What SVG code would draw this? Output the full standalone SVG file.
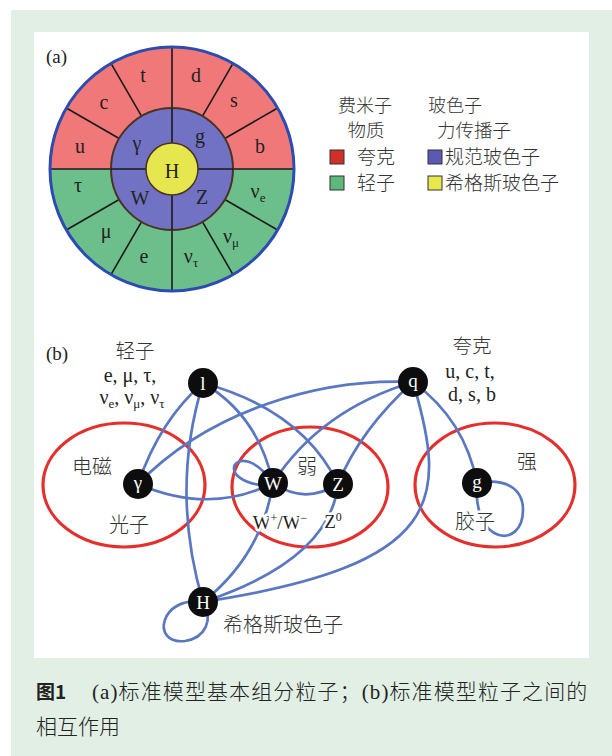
<svg xmlns="http://www.w3.org/2000/svg" width="612" height="756" viewBox="0 0 612 756">
<style>
.serif{font-family:"Liberation Serif","Noto Sans CJK SC",serif;fill:#222}
.cjk{font-family:"Noto Sans CJK SC","Liberation Serif",serif;fill:#333;font-weight:300}
.wl{font-family:"Liberation Serif",serif;font-size:20px;fill:#222;text-anchor:middle}
.sep{stroke:#1a1a1a;stroke-width:1.6;fill:none}
.con{fill:none;stroke:#5a78c2;stroke-width:2.7;stroke-linecap:round}
.group{fill:none;stroke:#e3302c;stroke-width:3.2}
.node{fill:#0d0d0d}
.nl{font-family:"Liberation Serif",serif;font-size:19px;fill:#fff;text-anchor:middle}
.halo{paint-order:stroke;stroke:#fff;stroke-width:5;stroke-linejoin:round}
.sw{stroke:#333;stroke-width:1}
</style>
<rect x="0" y="0" width="612" height="756" fill="#fff"/>
<rect x="11" y="10" width="601" height="746" fill="#e1efe5"/>
<rect x="34" y="32" width="555" height="626" fill="#fff"/>

<g id="wheel">
<path d="M50,169 A122,122 0 0 1 294,169 Z" fill="#f07878"/>
<path d="M50,169 A122,122 0 0 0 294,169 Z" fill="#6cbf8a"/>
<g class="sep">
<line x1="233" y1="169" x2="294" y2="169"/>
<line x1="224.8" y1="138.5" x2="277.7" y2="108"/>
<line x1="202.5" y1="116.2" x2="233" y2="63.4"/>
<line x1="172" y1="108" x2="172" y2="47"/>
<line x1="141.5" y1="116.2" x2="111" y2="63.4"/>
<line x1="119.2" y1="138.5" x2="66.3" y2="108"/>
<line x1="111" y1="169" x2="50" y2="169"/>
<line x1="119.2" y1="199.5" x2="66.3" y2="230"/>
<line x1="141.5" y1="221.8" x2="111" y2="274.6"/>
<line x1="172" y1="230" x2="172" y2="291"/>
<line x1="202.5" y1="221.8" x2="233" y2="274.6"/>
<line x1="224.8" y1="199.5" x2="277.7" y2="230"/>
</g>
<circle cx="172" cy="169" r="61" fill="#7272c4" stroke="#4a3322" stroke-width="2"/>
<line class="sep" x1="111" y1="169" x2="233" y2="169"/>
<line class="sep" x1="172" y1="108" x2="172" y2="230"/>
<circle cx="172" cy="169" r="26" fill="#e6e64e" stroke="#4a3322" stroke-width="1.5"/>
<circle cx="172" cy="169" r="122" fill="none" stroke="#2c4cb2" stroke-width="3"/>
<text class="wl" x="143" y="82">t</text>
<text class="wl" x="196" y="82">d</text>
<text class="wl" x="104" y="109">c</text>
<text class="wl" x="234" y="107">s</text>
<text class="wl" x="80" y="153">u</text>
<text class="wl" x="260" y="153">b</text>
<text class="wl" x="137" y="150">γ</text>
<text class="wl" x="200" y="143">g</text>
<text class="wl" x="172" y="178">H</text>
<text class="wl" x="140" y="205">W</text>
<text class="wl" x="202" y="204">Z</text>
<text class="wl" x="78" y="192">τ</text>
<text class="wl" x="258" y="198">ν<tspan font-size="13" dy="4">e</tspan></text>
<text class="wl" x="106" y="238">μ</text>
<text class="wl" x="231" y="243">ν<tspan font-size="13" dy="4">μ</tspan></text>
<text class="wl" x="144" y="263">e</text>
<text class="wl" x="191" y="263">ν<tspan font-size="13" dy="4">τ</tspan></text>
</g>

<text class="serif" x="46" y="63" font-size="19">(a)</text>

<g id="legend">
<text class="cjk" x="365" y="112" font-size="18" text-anchor="middle">费米子</text>
<text class="cjk" x="366" y="137" font-size="18.5" text-anchor="middle">物质</text>
<rect class="sw" x="330" y="150" width="14" height="14" fill="#cf3128"/>
<text class="cjk" x="357" y="164" font-size="19">夸克</text>
<rect class="sw" x="330" y="176" width="14" height="14" fill="#5cb87b"/>
<text class="cjk" x="357" y="190" font-size="19">轻子</text>
<text class="cjk" x="428" y="112" font-size="18">玻色子</text>
<text class="cjk" x="437" y="137" font-size="18.5">力传播子</text>
<rect class="sw" x="428" y="150" width="14" height="14" fill="#5a5ab4"/>
<text class="cjk" x="445" y="164" font-size="19">规范玻色子</text>
<rect class="sw" x="428" y="176" width="14" height="14" fill="#e8e84e"/>
<text class="cjk" x="445" y="190" font-size="19">希格斯玻色子</text>
</g>

<text class="serif" x="46" y="360" font-size="19">(b)</text>

<g id="groups">
<ellipse class="group" cx="124" cy="485" rx="81" ry="62"/>
<ellipse class="group" cx="310" cy="487" rx="78" ry="60"/>
<ellipse class="group" cx="495" cy="485" rx="80" ry="62"/>
</g>

<g id="connectors">
<path class="con" d="M203,383 Q160,420 138,484"/>
<path class="con" d="M203,383 Q170,490 203,602"/>
<path class="con" d="M203,383 Q258,415 273,483"/>
<path class="con" d="M203,383 Q302,410 338,484"/>
<path class="con" d="M413,382 C320,378 210,410 138,484"/>
<path class="con" d="M413,382 Q320,410 273,483"/>
<path class="con" d="M413,382 Q360,430 338,484"/>
<path class="con" d="M413,382 Q465,420 477,483"/>
<path class="con" d="M413,382 C448,500 445,565 203,602"/>
<path class="con" d="M273,483 Q262,555 203,602"/>
<path class="con" d="M338,484 Q330,560 203,602"/>
<path class="con" d="M138,484 Q210,515 273,483"/>
<path class="con" d="M273,483 Q305,505 338,484"/>
<path class="con" d="M273,483 C237,432 207,485 273,486"/>
<path class="con" d="M477,483 C472,545 523,550 523,510 C523,488 505,478 477,483"/>
<path class="con" d="M203,602 C160,595 150,645 185,641 C205,638 214,620 203,602"/>
</g>

<g id="node-l"><circle class="node" cx="203" cy="383" r="15"/><text class="nl" x="203" y="390">l</text></g>
<g id="node-q"><circle class="node" cx="413" cy="382" r="15"/><text class="nl" x="413" y="387">q</text></g>
<g id="node-gamma"><circle class="node" cx="138" cy="484" r="15"/><text class="nl" x="138" y="489">γ</text></g>
<g id="node-W"><circle class="node" cx="273" cy="483" r="15"/><text class="nl" x="273" y="490">W</text></g>
<g id="node-Z"><circle class="node" cx="338" cy="484" r="15"/><text class="nl" x="338" y="491">Z</text></g>
<g id="node-g"><circle class="node" cx="477" cy="483" r="15"/><text class="nl" x="477" y="488">g</text></g>
<g id="node-H"><circle class="node" cx="203" cy="602" r="15"/><text class="nl" x="203" y="609">H</text></g>

<g id="labels">
<text class="cjk" x="135" y="358" font-size="19.5" text-anchor="middle">轻子</text>
<text class="serif" x="130" y="382" font-size="20" text-anchor="middle">e, μ, τ,</text>
<text class="serif" x="132" y="404" font-size="20" text-anchor="middle">ν<tspan font-size="13" dy="4">e</tspan><tspan dy="-4">, ν</tspan><tspan font-size="13" dy="4">μ</tspan><tspan dy="-4">, ν</tspan><tspan font-size="13" dy="4">τ</tspan></text>
<text class="cjk" x="472" y="353" font-size="19.5" text-anchor="middle">夸克</text>
<text class="serif" x="470" y="378" font-size="20" text-anchor="middle">u, c, t,</text>
<text class="serif" x="472" y="401" font-size="20" text-anchor="middle">d, s, b</text>
<text class="cjk" x="92" y="474" font-size="20" text-anchor="middle">电磁</text>
<text class="cjk" x="129" y="532" font-size="20" text-anchor="middle">光子</text>
<text class="cjk" x="307" y="474" font-size="20" text-anchor="middle">弱</text>
<text class="serif halo" x="280" y="529" font-size="19" text-anchor="middle">W<tspan font-size="12" dy="-7">+</tspan><tspan dy="7">/W</tspan><tspan font-size="12" dy="-7">−</tspan></text>
<text class="serif halo" x="333" y="528" font-size="19" text-anchor="middle">Z<tspan font-size="12" dy="-7">0</tspan></text>
<text class="cjk" x="527" y="469" font-size="20" text-anchor="middle">强</text>
<text class="cjk halo" x="475" y="529" font-size="20" text-anchor="middle">胶子</text>
<text class="cjk" x="283" y="632" font-size="20" text-anchor="middle">希格斯玻色子</text>
</g>

<g id="caption">
<text x="36" y="699" font-size="19" font-weight="bold" style="font-family:'Noto Sans CJK SC','Liberation Sans',sans-serif;fill:#222">图1</text>
<text x="92" y="699" font-size="21" letter-spacing="1.1" style="font-family:'Liberation Serif','Noto Sans CJK SC',serif;fill:#222">(a)<tspan style="font-family:'Noto Sans CJK SC',sans-serif;font-weight:300">标准模型基本组分粒子；</tspan>(b)<tspan style="font-family:'Noto Sans CJK SC',sans-serif;font-weight:300">标准模型粒子之间的</tspan></text>
<text x="36" y="734" font-size="21" style="font-family:'Noto Sans CJK SC',sans-serif;font-weight:300;fill:#222">相互作用</text>
</g>
</svg>
